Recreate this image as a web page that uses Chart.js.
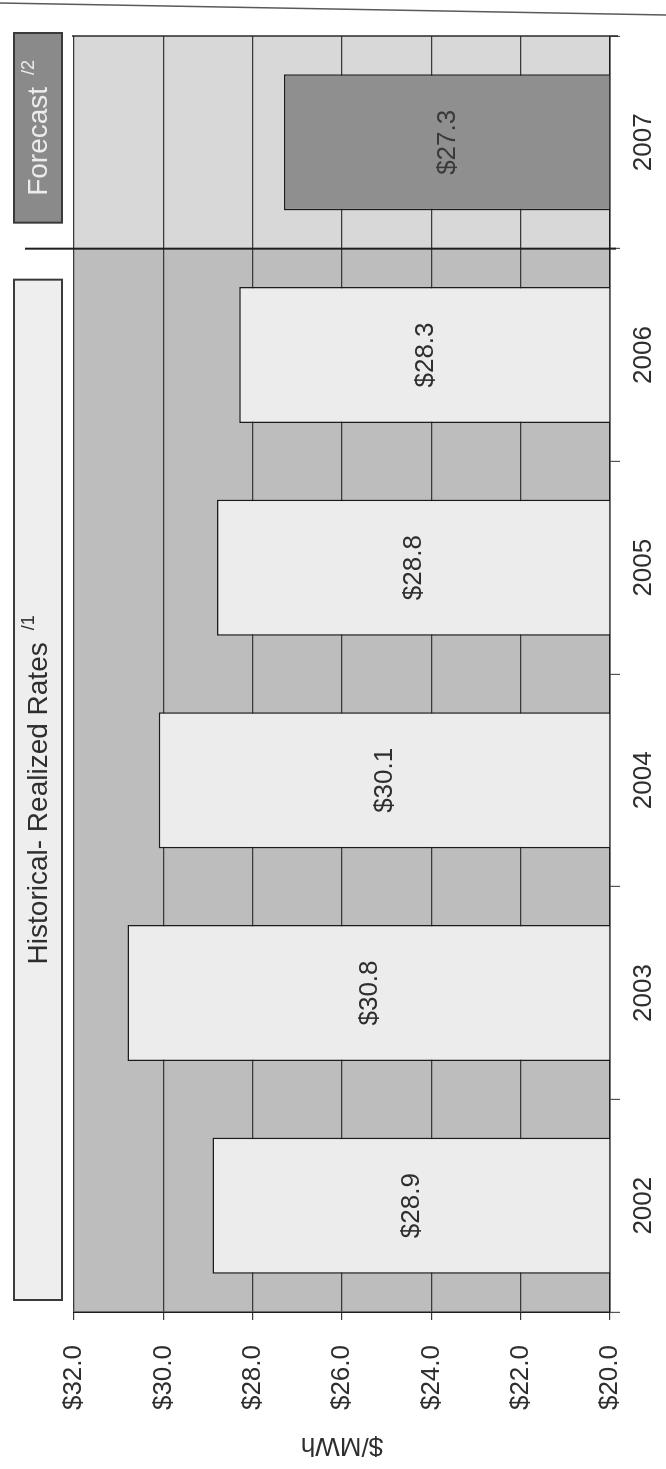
<!DOCTYPE html>
<html>
<head>
<meta charset="utf-8">
<title>Realized Rates ($/MWh)</title>
<script src="https://cdn.jsdelivr.net/npm/chart.js@4.4.1/dist/chart.umd.min.js"></script>
<style>
  html, body { margin: 0; padding: 0; background: #ffffff; overflow: hidden; width: 666px; height: 1469px; }
  /* The chart is laid out landscape and turned a quarter turn to sit on a portrait page */
  #stage {
    position: absolute; left: 0; top: 0;
    width: 1469px; height: 666px;
    transform-origin: 0 0;
    transform: translate(0, 1469px) rotate(-90deg);
  }
  canvas { display: block; }
</style>
</head>
<body>
<div id="stage"><canvas id="rates" width="1469" height="666"></canvas></div>
<script>
// ---- data ----
const years = ['2002', '2003', '2004', '2005', '2006', '2007'];
const rates = [28.9, 30.8, 30.1, 28.8, 28.3, 27.3];
const isForecast = [false, false, false, false, false, true];
const rateTicks = [20, 22, 24, 26, 28, 30, 32];
const axisTitle = '$/MWh';
const historicalHeader = 'Historical- Realized Rates';
const historicalNote = '/1';
const forecastHeader = 'Forecast';
const forecastNote = '/2';

// ---- styling ----
const FONT = '"Liberation Sans", Arial, Helvetica, sans-serif';
const INK = '#2e2e2e';
const HIST_BG = '#bdbdbd';
const FCST_BG = '#d8d8d8';
const HIST_BAR = '#ececec';
const FCST_BAR = '#8f8f8f';

// boundary between the historical and forecast years, in pixels
function splitX(chart) {
  const x = chart.scales.x;
  const i = isForecast.indexOf(true);
  return (x.getPixelForTick(i - 1) + x.getPixelForTick(i)) / 2;
}

// draws "text" + a raised footnote mark, centred on cx
function headerText(ctx, text, note, cx, cy, color) {
  ctx.save();
  ctx.fillStyle = color;
  ctx.textBaseline = 'middle';
  ctx.textAlign = 'left';
  ctx.font = '28px ' + FONT;
  const w1 = ctx.measureText(text).width;
  ctx.font = '18px ' + FONT;
  const gap = 12;
  const w2 = ctx.measureText(note).width;
  const start = cx - (w1 + gap + w2) / 2;
  ctx.font = '28px ' + FONT;
  ctx.fillText(text, start, cy + 1);
  ctx.font = '18px ' + FONT;
  ctx.fillText(note, start + w1 + gap, cy - 9);
  ctx.restore();
}

const backdrop = {
  id: 'backdrop',
  beforeDraw(chart) {
    const { ctx, chartArea: a } = chart;
    const sx = splitX(chart);
    ctx.save();
    ctx.fillStyle = HIST_BG;
    ctx.fillRect(a.left, a.top, sx - a.left, a.bottom - a.top);
    ctx.fillStyle = FCST_BG;
    ctx.fillRect(sx, a.top, a.right - sx, a.bottom - a.top);
    ctx.restore();
  }
};

const decorations = {
  id: 'decorations',
  afterDraw(chart) {
    const { ctx, chartArea: a } = chart;
    const sx = splitX(chart);
    const meta = chart.getDatasetMeta(0);

    ctx.save();
    // value labels centred in each bar
    ctx.font = '26px ' + FONT;
    ctx.textAlign = 'center';
    ctx.textBaseline = 'middle';
    meta.data.forEach((bar, i) => {
      const cy = (bar.y + bar.base) / 2;
      ctx.fillStyle = isForecast[i] ? '#3a3a3a' : INK;
      ctx.fillText('$' + rates[i].toFixed(1), bar.x, cy + 1);
    });

    // right-hand frame of the plot
    ctx.strokeStyle = '#2a2a2a';
    ctx.lineWidth = 1.5;
    ctx.beginPath();
    ctx.moveTo(a.right, a.top - 2);
    ctx.lineTo(a.right, a.bottom + 8);
    ctx.stroke();

    // divider between history and forecast
    ctx.strokeStyle = '#1e1e1e';
    ctx.lineWidth = 2;
    ctx.beginPath();
    ctx.moveTo(sx, 25);
    ctx.lineTo(sx, a.bottom + 6);
    ctx.stroke();

    // header boxes
    const top = 14, h = 48;
    const hx0 = a.left + 12, hx1 = sx - 31;
    ctx.fillStyle = '#eeeeee';
    ctx.fillRect(hx0, top, hx1 - hx0, h);
    ctx.strokeStyle = '#3a3a3a';
    ctx.lineWidth = 2;
    ctx.strokeRect(hx0, top, hx1 - hx0, h);
    headerText(ctx, historicalHeader, historicalNote, (hx0 + hx1) / 2, top + h / 2, INK);

    const fx0 = sx + 26, fx1 = a.right + 3;
    ctx.fillStyle = '#8a8a8a';
    ctx.fillRect(fx0, top, fx1 - fx0, h);
    ctx.strokeStyle = '#3a3a3a';
    ctx.strokeRect(fx0, top, fx1 - fx0, h);
    headerText(ctx, forecastHeader, forecastNote, (fx0 + fx1) / 2, top + h / 2, '#ececec');

    // page rule along the far edge
    ctx.strokeStyle = '#5a5a5a';
    ctx.lineWidth = 1.5;
    ctx.beginPath();
    ctx.moveTo(1466, 0);
    ctx.lineTo(1454, 666);
    ctx.stroke();
    ctx.restore();
  }
};

new Chart(document.getElementById('rates'), {
  type: 'bar',
  data: {
    labels: years,
    datasets: [{
      data: rates,
      base: rateTicks[0],
      backgroundColor: isForecast.map(f => f ? FCST_BAR : HIST_BAR),
      borderColor: '#1c1c1c',
      borderWidth: 1.5,
      borderSkipped: 'start',
      barPercentage: 0.8,
      categoryPercentage: 0.8
    }]
  },
  options: {
    responsive: false,
    animation: false,
    devicePixelRatio: 1,
    layout: { padding: { top: 74, right: 36, left: 0, bottom: 0 } },
    plugins: { legend: { display: false }, tooltip: { enabled: false } },
    scales: {
      x: {
        afterFit(s) { s.height = 56; },
        grid: { offset: true, drawOnChartArea: false, drawTicks: true, tickLength: 10, color: '#555555', lineWidth: 1.2 },
        border: { display: true, color: '#1e1e1e', width: 1.5 },
        ticks: { color: INK, padding: 8, font: { family: FONT, size: 26 }, maxRotation: 0 }
      },
      y: {
        min: rateTicks[0],
        max: rateTicks[rateTicks.length - 1],
        afterFit(s) { s.width = 157; },
        afterBuildTicks(s) { s.ticks = rateTicks.map(v => ({ value: v })); },
        grid: { color: '#3a3a3a', lineWidth: 1.2, tickLength: 8, drawTicks: true },
        border: { display: true, color: '#1e1e1e', width: 1.5 },
        ticks: {
          color: INK, padding: 25,
          font: { family: FONT, size: 26 },
          callback: v => '$' + Number(v).toFixed(1)
        },
        title: {
          display: true, text: axisTitle, color: INK,
          font: { family: FONT, size: 26 },
          padding: { top: 8, bottom: 0 }
        }
      }
    }
  },
  plugins: [backdrop, decorations]
});
</script>
</body>
</html>
